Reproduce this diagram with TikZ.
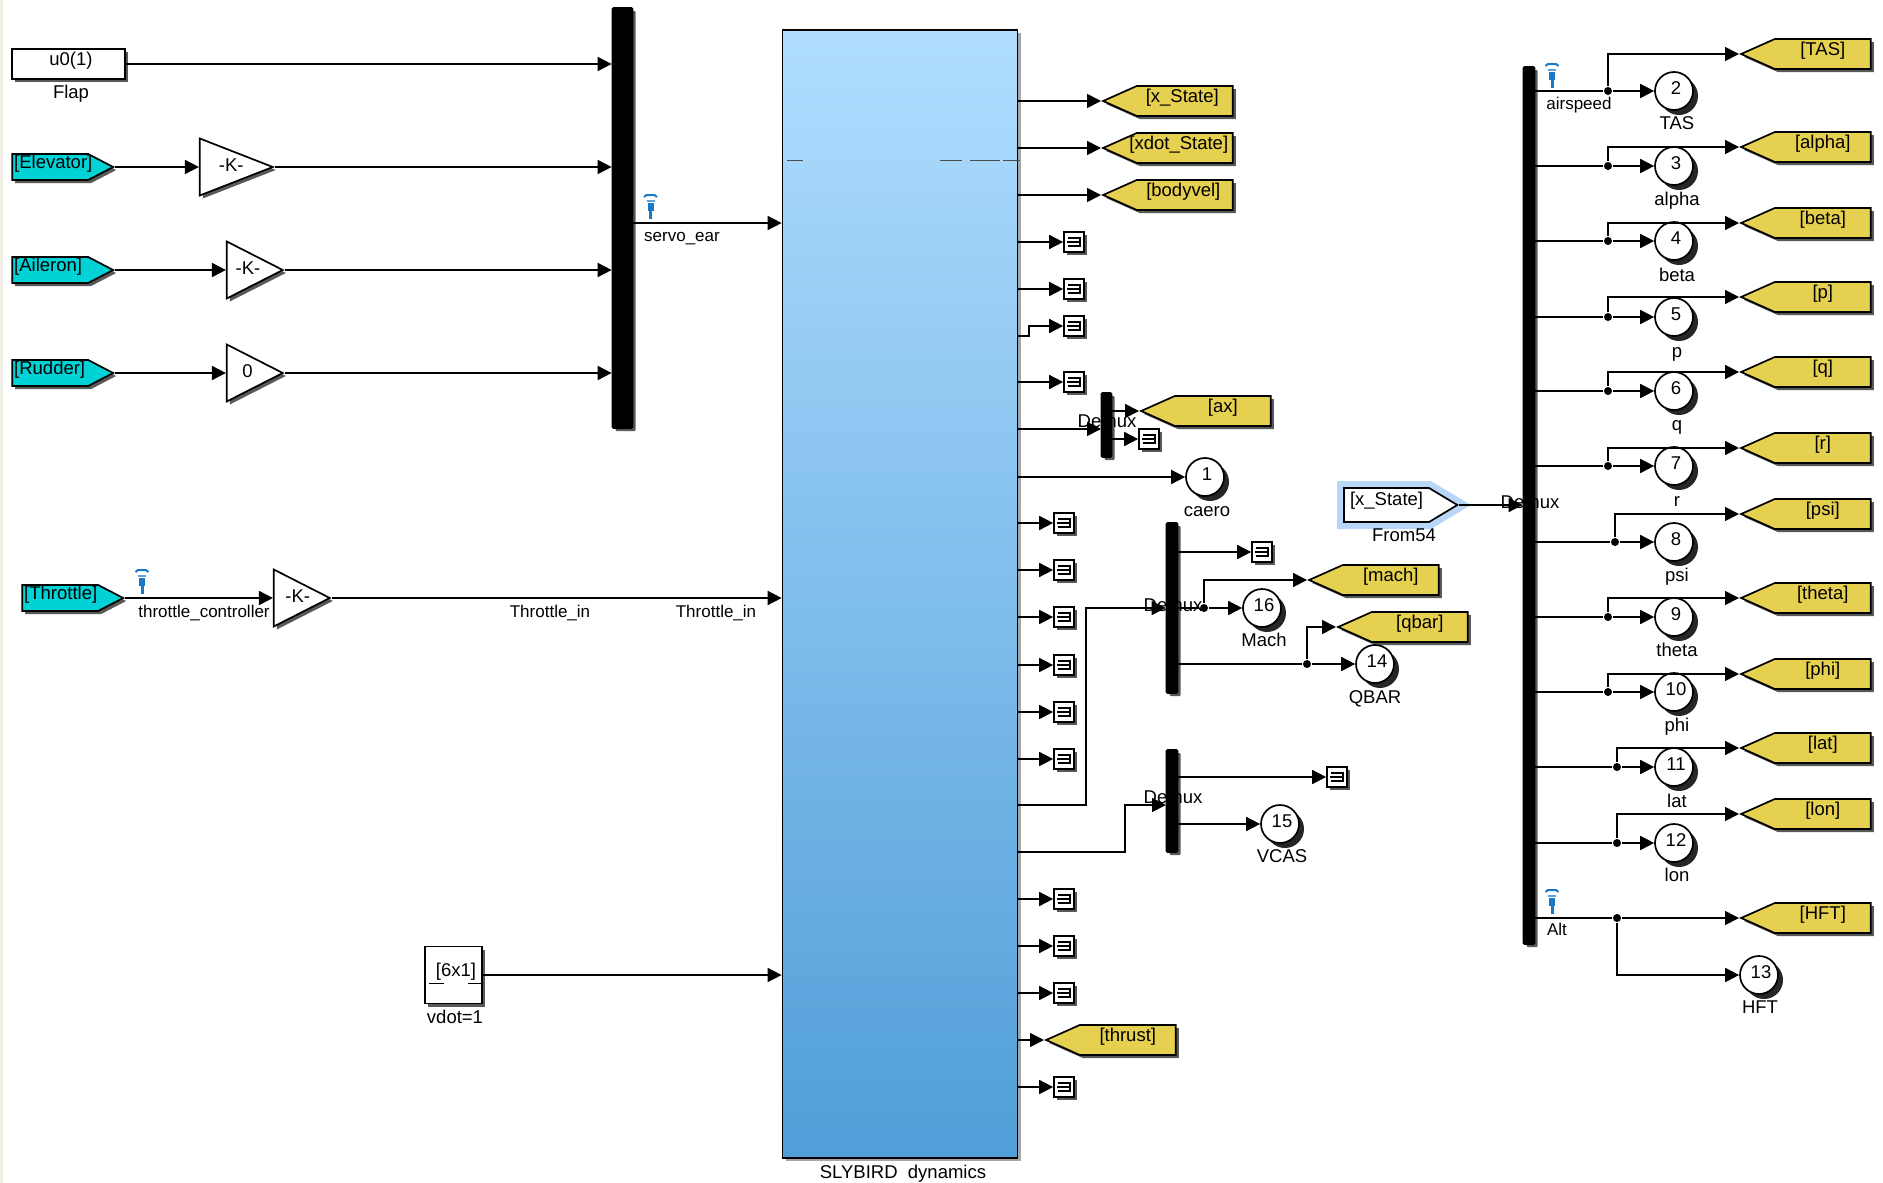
\documentclass[tikz,border=0pt]{standalone}
\usepackage{fontspec}
\setmainfont{Liberation Sans}
\usepackage{tikz}
\usetikzlibrary{arrows.meta,shapes.geometric,shapes.symbols,shadows,positioning,calc}
\definecolor{tagyellow}{HTML}{E6D04F}
\definecolor{tagcyan}{HTML}{00D2D6}
\definecolor{blocktop}{HTML}{B0DDFF}
\definecolor{blockbot}{HTML}{509ED8}
\definecolor{hlblue}{HTML}{B8D6F8}
\definecolor{earblue}{HTML}{1A78C8}
\definecolor{stripgray}{HTML}{EFEDE4}
\tikzset{
  shadowed/.style={drop shadow={shadow xshift=3pt,shadow yshift=-3pt,fill=black!65,opacity=1}},
  txt/.style={inner sep=0pt,text height=13pt,text depth=0pt},
  sigtxt/.style={txt,font=\fontsize{17}{20}\selectfont},
  tagbox/.style={signal,signal to=west,signal pointer angle=48,draw,fill=tagyellow,shadowed,
    inner sep=0pt,text width=96pt,align=center,text height=16.5pt,text depth=13.5pt,anchor=west},
  frombox/.style={signal,signal to=east,signal pointer angle=55,draw,fill=tagcyan,shadowed,
    inner xsep=2pt,inner ysep=0pt,text width=72pt,align=left,text height=14pt,text depth=12pt,anchor=east},
  srcbox/.style={draw,fill=white,shadowed,inner sep=0pt,text height=16pt,text depth=13pt,
    execute at begin node={\hspace*{5pt}}},
  gainbox/.style={isosceles triangle,isosceles triangle stretches,draw,fill=white,shadowed,inner sep=0pt,
    minimum height=56pt,minimum width=57pt,anchor=apex,text height=11pt,text depth=3pt,
    execute at begin node={\hspace*{5pt}}},
  barbox/.style={draw,fill=black,inner sep=0pt,shadowed,rounded corners=1pt},
  outbox/.style={circle,draw,fill=white,inner sep=0pt,minimum size=38pt,text height=14pt,text depth=8pt,
    execute at begin node={\hspace*{4pt}},
    drop shadow={shadow xshift=5pt,shadow yshift=-5pt,fill=black!85,opacity=1}},
  termbox/.style={draw,fill=white,shadowed,inner sep=0pt,minimum size=20pt,
    path picture={\draw[line width=1.8pt] ([shift={(-6pt,4pt)}]path picture bounding box.center) -- ++(12pt,0pt) -- ++(0pt,-8pt) -- ++(-12pt,0pt);
      \draw[line width=1.8pt] ([shift={(-7pt,0pt)}]path picture bounding box.center) -- ++(13pt,0pt);}},
  dotbox/.style={circle,fill=black,inner sep=0pt,minimum size=8pt},
  ear/.pic={
    \draw[earblue,line width=2pt] (-6.5,-8) -- (-4,-10) -- (4,-10) -- (6.5,-8);
    \draw[earblue!70,line width=2pt] (-4,-4) -- (4,-4);
    \fill[earblue] (-3,-2) rectangle (3,6);
    \draw[earblue,line width=3pt] (0,6) -- (0,14);
  }
}
\begin{document}
\begin{tikzpicture}[x=1pt,y=-1pt,line width=1.7pt,>={Triangle[length=14pt,width=14pt]},
    every node/.style={font=\fontsize{18.5}{22}\selectfont}]
  \useasboundingbox (0,0) rectangle (1883,1183);
  \fill[white] (0,0) rectangle (1883,1183);
  \fill[stripgray] (0,0) rectangle (3,1183);

  % main block
  \node[draw,top color=blocktop,bottom color=blockbot,minimum width=235pt,minimum height=1128pt,inner sep=0pt,
    drop shadow={shadow xshift=3pt,shadow yshift=-3pt,fill=black!35,opacity=1}] (block) at (900,594) {};
  \node[txt] (blockName) at (903,1172) {SLYBIRD\ \ dynamics};
  \draw[line width=1pt,black!70] (787,160) -- (803,160) (940,160) -- (962,160) (970,160) -- (1000,160) (1003,160) -- (1020,160);

  % left side
  \node[barbox,minimum width=20pt,minimum height=420pt] (muxA) at (622.5,218) {};
  \node[srcbox,minimum width=113pt,minimum height=30pt] (flapBox) at (68.5,64) {u0(1)};
  \node[txt] (flapName) at (71,92) {Flap};
  \node[frombox] (elevTag) at (115,167) {[Elevator]};
  \node[gainbox,minimum height=73pt,execute at begin node={\hspace*{10pt}}] (gainE) at (275,167) {-K-};
  \node[frombox] (ailTag) at (115,270) {[Aileron]};
  \node[gainbox] (gainA) at (285,270) {-K-};
  \node[frombox] (rudTag) at (115,373) {[Rudder]};
  \node[gainbox,execute at begin node={\hspace*{3pt}}] (gainR) at (285,373) {0};
  \node[frombox] (thrTag) at (125,598) {[Throttle]};
  \node[gainbox,execute at begin node={\hspace*{4pt}}] (gainT) at (332,598) {-K-};
  \node[sigtxt] (thrName) at (204,611) {throttle\_controller};
  \node[sigtxt] (thrInA) at (550,611) {Throttle\_in};
  \node[sigtxt] (thrInB) at (716,611) {Throttle\_in};
  \node[srcbox,minimum size=57pt] (vdotBox) at (453.5,975) {[6x1]};
  \node[txt] (vdotName) at (455,1017) {vdot=1};
  \draw[line width=1pt] (429,983) -- (444,983) (468,983) -- (481,983);
  \coordinate (servoOut) at (700,223);
  \node[sigtxt] (servoName) at (682,235) {servo\_ear};
  \pic at (650.5,205) {ear};
  \pic at (142,580) {ear};

  \draw[->] (flapBox) -- (muxA.west |- flapBox);
  \draw[->] (elevTag.east) -- (gainE.west);
  \draw[->] (gainE.apex) -- (muxA.west |- gainE.apex);
  \draw[->] (ailTag.east) -- (gainA.west);
  \draw[->] (gainA.apex) -- (muxA.west |- gainA.apex);
  \draw[->] (rudTag.east) -- (gainR.west);
  \draw[->] (gainR.apex) -- (muxA.west |- gainR.apex);
  \draw[->] (thrTag.east) -- (gainT.west);
  \draw[->] (gainT.apex) -- (block.west |- gainT.apex);
  \draw[->] (vdotBox.east) -- (block.west |- vdotBox);
  \draw[->] (muxA.east |- servoOut) -- (block.west |- servoOut);

  % block outputs
  \node[tagbox] (xTag) at (1101,101) {\hspace*{-5pt}[x\_State]};
  \node[tagbox] (xdotTag) at (1101,148) {\hspace*{-12pt}[xdot\_State]};
  \node[tagbox] (velTag) at (1101,195) {\hspace*{-3pt}[bodyvel]};
  \node[termbox] (termA) at (1074,242) {};
  \node[termbox] (termB) at (1074,289) {};
  \node[termbox] (termC) at (1074,326) {};
  \node[termbox] (termD) at (1074,382) {};
  \coordinate (kneeA) at (1029,336);
  \draw[->] (block.east |- xTag.west) -- (xTag.west);
  \draw[->] (block.east |- xdotTag.west) -- (xdotTag.west);
  \draw[->] (block.east |- velTag.west) -- (velTag.west);
  \draw[->] (block.east |- termA) -- (termA.west);
  \draw[->] (block.east |- termB) -- (termB.west);
  \draw[->] (block.east |- kneeA) -- (kneeA) |- (termC.west);
  \draw[->] (block.east |- termD) -- (termD.west);

  \node[barbox,minimum width=10pt,minimum height=64pt] (muxB) at (1106.5,425) {};
  \coordinate (inB) at (1101,429);
  \node[tagbox] (axTag) at (1139,411) {[ax]};
  \node[termbox] (termE) at (1149,439) {};
  \draw[->] (block.east |- inB) -- (inB);
  \draw[->] (muxB.east |- axTag.west) -- (axTag.west);
  \draw[->] (muxB.east |- termE) -- (termE.west);

  \node[outbox] (caeroOut) at (1205,477) {1};
  \node[txt] (caeroName) at (1207,510) {caero};
  \draw[->] (block.east |- caeroOut) -- (caeroOut);

  \node[termbox] (termF) at (1064,523) {};
  \node[termbox] (termG) at (1064,570) {};
  \node[termbox] (termH) at (1064,617) {};
  \node[termbox] (termI) at (1064,665) {};
  \node[termbox] (termJ) at (1064,712) {};
  \node[termbox] (termK) at (1064,759) {};
  \draw[->] (block.east |- termF) -- (termF.west);
  \draw[->] (block.east |- termG) -- (termG.west);
  \draw[->] (block.east |- termH) -- (termH.west);
  \draw[->] (block.east |- termI) -- (termI.west);
  \draw[->] (block.east |- termJ) -- (termJ.west);
  \draw[->] (block.east |- termK) -- (termK.west);

  % mach and qbar
  \node[barbox,minimum width=11pt,minimum height=170pt] (muxC) at (1172,608) {};
  \coordinate (kneeB) at (1086,805);
  \node[dotbox] (machJ) at (1204,608) {};
  \node[termbox] (termL) at (1262,552) {};
  \node[tagbox] (machTag) at (1307,580) {[mach]};
  \node[outbox] (machOut) at (1262,608) {16};
  \node[txt] (machName) at (1264,640) {Mach};
  \node[dotbox] (qbarJ) at (1307,664) {};
  \node[tagbox] (qbarTag) at (1336,627) {[qbar]};
  \node[outbox] (qbarOut) at (1375,664) {14};
  \node[txt] (qbarName) at (1375,697) {QBAR};
  \draw[->] (block.east |- kneeB) -- (kneeB) |- (muxC.west);
  \draw[->] (muxC.east |- termL) -- (termL.west);
  \draw (muxC.east |- machJ) -- (machJ);
  \draw[->] (machJ) -- (machOut);
  \draw[->] (machJ) |- (machTag.west);
  \draw (muxC.east |- qbarJ) -- (qbarJ);
  \draw[->] (qbarJ) -- (qbarOut);
  \draw[->] (qbarJ) |- (qbarTag.west);

  % vcas
  \node[barbox,minimum width=11pt,minimum height=102pt] (muxD) at (1172,801) {};
  \coordinate (kneeC) at (1125,852);
  \coordinate (inD) at (1166,805);
  \node[termbox] (termM) at (1337,777) {};
  \node[outbox] (vcasOut) at (1280,824) {15};
  \node[txt] (vcasName) at (1282,856) {VCAS};
  \draw[->] (block.east |- kneeC) -- (kneeC) |- (inD);
  \draw[->] (muxD.east |- termM) -- (termM.west);
  \draw[->] (muxD.east |- vcasOut) -- (vcasOut);

  \node[termbox] (termN) at (1064,899) {};
  \node[termbox] (termO) at (1064,946) {};
  \node[termbox] (termP) at (1064,993) {};
  \node[tagbox] (thrustTag) at (1044,1040) {[thrust]};
  \node[termbox] (termQ) at (1064,1087) {};
  \draw[->] (block.east |- termN) -- (termN.west);
  \draw[->] (block.east |- termO) -- (termO.west);
  \draw[->] (block.east |- termP) -- (termP.west);
  \draw[->] (block.east |- thrustTag.west) -- (thrustTag.west);
  \draw[->] (block.east |- termQ) -- (termQ.west);

  % right side
  \node[barbox,minimum width=11pt,minimum height=877pt] (muxE) at (1529,505.5) {};
  \node[signal,signal to=east,signal pointer angle=62,draw,fill=white,inner sep=0pt,text width=85pt,align=center,
    text height=17pt,text depth=17pt,anchor=east,preaction={draw=hlblue,line width=14pt}] (stateFrom) at (1459,505) {[x\_State]};
  \node[txt] (stateName) at (1404,535) {From54};
  \draw[->] (stateFrom.east) -- (muxE.west |- stateFrom.east);

  \node[dotbox] (tasJ) at (1608,91) {};
  \node[tagbox] (tasTag) at (1739,54) {[TAS]};
  \node[outbox] (tasOut) at (1674,91) {2};
  \node[txt] (tasName) at (1677,123) {TAS};
  \node[sigtxt] (airName) at (1579,103) {airspeed};
  \pic at (1552,74) {ear};
  \draw (muxE.east |- tasJ) -- (tasJ);
  \draw[->] (tasJ) -- (tasOut);
  \draw[->] (tasJ) |- (tasTag.west);

  \node[dotbox] (alphaJ) at (1608,166) {};
  \node[tagbox] (alphaTag) at (1739,147) {[alpha]};
  \node[outbox] (alphaOut) at (1674,166) {3};
  \node[txt] (alphaName) at (1677,199) {alpha};
  \draw (muxE.east |- alphaJ) -- (alphaJ);
  \draw[->] (alphaJ) -- (alphaOut);
  \draw[->] (alphaJ) |- (alphaTag.west);

  \node[dotbox] (betaJ) at (1608,241) {};
  \node[tagbox] (betaTag) at (1739,223) {[beta]};
  \node[outbox] (betaOut) at (1674,241) {4};
  \node[txt] (betaName) at (1677,275) {beta};
  \draw (muxE.east |- betaJ) -- (betaJ);
  \draw[->] (betaJ) -- (betaOut);
  \draw[->] (betaJ) |- (betaTag.west);

  \node[dotbox] (pJ) at (1608,317) {};
  \node[tagbox] (pTag) at (1739,297) {[p]};
  \node[outbox] (pOut) at (1674,317) {5};
  \node[txt] (pName) at (1677,351) {p};
  \draw (muxE.east |- pJ) -- (pJ);
  \draw[->] (pJ) -- (pOut);
  \draw[->] (pJ) |- (pTag.west);

  \node[dotbox] (qJ) at (1608,391) {};
  \node[tagbox] (qTag) at (1739,372) {[q]};
  \node[outbox] (qOut) at (1674,391) {6};
  \node[txt] (qName) at (1677,424) {q};
  \draw (muxE.east |- qJ) -- (qJ);
  \draw[->] (qJ) -- (qOut);
  \draw[->] (qJ) |- (qTag.west);

  \node[dotbox] (rJ) at (1608,466) {};
  \node[tagbox] (rTag) at (1739,448) {[r]};
  \node[outbox] (rOut) at (1674,466) {7};
  \node[txt] (rName) at (1677,500) {r};
  \draw (muxE.east |- rJ) -- (rJ);
  \draw[->] (rJ) -- (rOut);
  \draw[->] (rJ) |- (rTag.west);

  \node[dotbox] (psiJ) at (1615,542) {};
  \node[tagbox] (psiTag) at (1739,514) {[psi]};
  \node[outbox] (psiOut) at (1674,542) {8};
  \node[txt] (psiName) at (1677,575) {psi};
  \draw (muxE.east |- psiJ) -- (psiJ);
  \draw[->] (psiJ) -- (psiOut);
  \draw[->] (psiJ) |- (psiTag.west);

  \node[dotbox] (thetaJ) at (1608,617) {};
  \node[tagbox] (thetaTag) at (1739,598) {[theta]};
  \node[outbox] (thetaOut) at (1674,617) {9};
  \node[txt] (thetaName) at (1677,650) {theta};
  \draw (muxE.east |- thetaJ) -- (thetaJ);
  \draw[->] (thetaJ) -- (thetaOut);
  \draw[->] (thetaJ) |- (thetaTag.west);

  \node[dotbox] (phiJ) at (1608,692) {};
  \node[tagbox] (phiTag) at (1739,674) {[phi]};
  \node[outbox] (phiOut) at (1674,692) {10};
  \node[txt] (phiName) at (1677,725) {phi};
  \draw (muxE.east |- phiJ) -- (phiJ);
  \draw[->] (phiJ) -- (phiOut);
  \draw[->] (phiJ) |- (phiTag.west);

  \node[dotbox] (latJ) at (1617,767) {};
  \node[tagbox] (latTag) at (1739,748) {[lat]};
  \node[outbox] (latOut) at (1674,767) {11};
  \node[txt] (latName) at (1677,801) {lat};
  \draw (muxE.east |- latJ) -- (latJ);
  \draw[->] (latJ) -- (latOut);
  \draw[->] (latJ) |- (latTag.west);

  \node[dotbox] (lonJ) at (1617,843) {};
  \node[tagbox] (lonTag) at (1739,814) {[lon]};
  \node[outbox] (lonOut) at (1674,843) {12};
  \node[txt] (lonName) at (1677,875) {lon};
  \draw (muxE.east |- lonJ) -- (lonJ);
  \draw[->] (lonJ) -- (lonOut);
  \draw[->] (lonJ) |- (lonTag.west);

  \node[dotbox] (hftJ) at (1617,918) {};
  \node[tagbox] (hftTag) at (1739,918) {[HFT]};
  \node[outbox] (hftOut) at (1759,975) {13};
  \node[txt] (hftName) at (1760,1007) {HFT};
  \node[sigtxt] (altName) at (1557,929) {Alt};
  \pic at (1552,900) {ear};
  \draw (muxE.east |- hftJ) -- (hftJ);
  \draw[->] (hftJ) -- (hftTag.west);
  \draw[->] (hftJ) |- (hftOut);

  % demux labels go over the bars
  \node[txt] (demuxB) at (1107,421) {Demux};
  \node[txt] (demuxC) at (1173,605) {Demux};
  \node[txt] (demuxD) at (1173,797) {Demux};
  \node[txt] (demuxE) at (1530,502) {Demux};
\end{tikzpicture}
\end{document}
